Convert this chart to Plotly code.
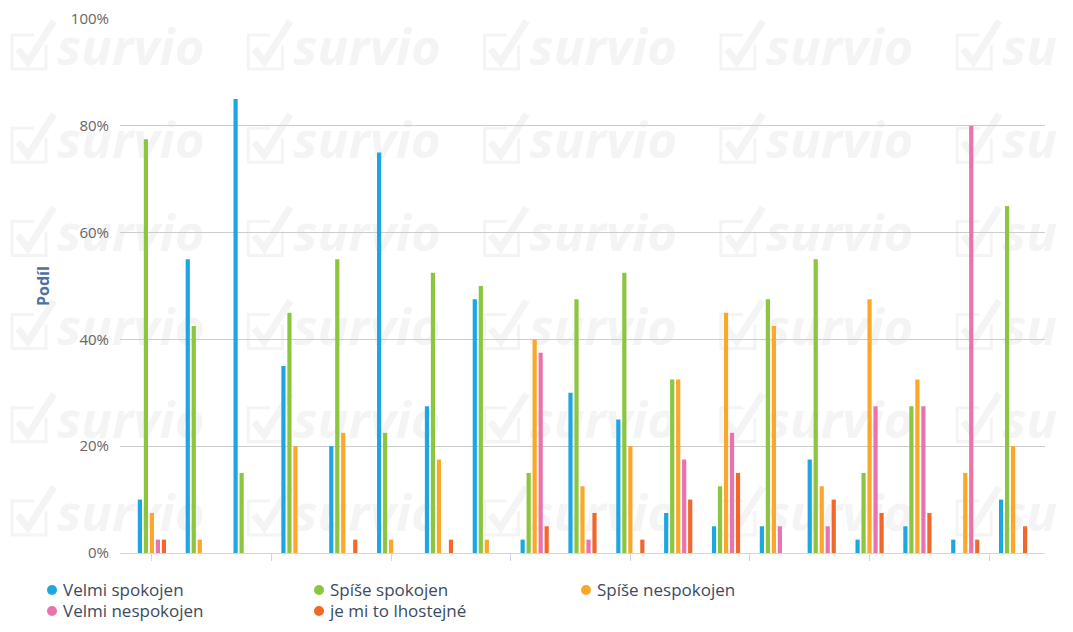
import plotly.graph_objects as go

# ---- data (percent of respondents per question) ----
categories = list(range(1, 20))
velmi_spokojen = [10, 55, 85, 35, 20, 75, 27.5, 47.5, 2.5, 30, 25, 7.5, 5, 5, 17.5, 2.5, 5, 2.5, 10]
spise_spokojen = [77.5, 42.5, 15, 45, 55, 22.5, 52.5, 50, 15, 47.5, 52.5, 32.5, 12.5, 47.5, 55, 15, 27.5, 0, 65]
spise_nespokojen = [7.5, 2.5, 0, 20, 22.5, 2.5, 17.5, 2.5, 40, 12.5, 20, 32.5, 45, 42.5, 12.5, 47.5, 32.5, 15, 20]
velmi_nespokojen = [2.5, 0, 0, 0, 0, 0, 0, 0, 37.5, 2.5, 0, 17.5, 22.5, 5, 5, 27.5, 27.5, 80, 0]
lhostejne = [2.5, 0, 0, 0, 2.5, 0, 2.5, 0, 5, 7.5, 2.5, 10, 15, 0, 10, 7.5, 7.5, 2.5, 5]

series_names = ["Velmi spokojen", "Spíše spokojen", "Spíše nespokojen", "Velmi nespokojen", "je mi to lhostejné"]
series_values = [velmi_spokojen, spise_spokojen, spise_nespokojen, velmi_nespokojen, lhostejne]
series_colors = ["#1da7e0", "#8cc540", "#fba72a", "#e873ad", "#f2672a"]

y_ticks = [0, 20, 40, 60, 80, 100]
y_ticktext = ["0%", "20%", "40%", "60%", "80%", "100%"]

# ---- layout geometry (page pixels; page body has an 8px margin) ----
OFF = 8
PAGE_W, PAGE_H = 1073, 632
W, H = PAGE_W - 2 * OFF, PAGE_H - 2 * OFF
PL, PR, PT, PB = 120, 1045, 19, 553          # plot area in page pixels
L, R, T, B = PL - OFF, W - (PR - OFF), PT - OFF, H - (PB - OFF)
PW, PH = PR - PL, PB - PT

def px_x(p):
    return (p - PL) / PW

def px_y(p):
    return (PB - p) / PH

x_idx = list(range(len(categories)))

fig = go.Figure()
for name, vals, col in zip(series_names, series_values, series_colors):
    fig.add_trace(go.Bar(x=x_idx, y=vals, name=name, marker=dict(color=col, line=dict(width=0)),
                         showlegend=False))
# legend entries (symbols drawn as circles below, closer to the text)
legend_rows = ["legend", "legend", "legend", "legend2", "legend2"]
for name, lg in zip(series_names, legend_rows):
    fig.add_trace(go.Scatter(x=[None], y=[None], mode="markers", name=name, legend=lg,
                             marker=dict(color="rgba(0,0,0,0)", size=10, symbol="circle")))

shapes = []
# ---- watermark ----
wm_col = "#f4f4f4"
for c in range(5):
    cx = 10 + 236.3 * c
    wm_text = "survio" if c < 4 else "su"
    for r in range(7):
        cy = 53 + 93.2 * r
        if cy + 20 > PAGE_H - OFF:
            continue
        shapes.append(dict(type="rect", xref="paper", yref="paper",
                           x0=px_x(cx + 44), x1=px_x(min(cx + 200, PAGE_W - OFF - 2)),
                           y0=px_y(cy - 4 + 30), y1=px_y(cy - 4 - 30),
                           line=dict(width=0), fillcolor="rgba(0,0,0,0)", layer="below",
                           label=dict(text=wm_text, textposition="middle left", padding=0,
                                      font=dict(family="Open Sans", size=51, color=wm_col,
                                                weight="bold", style="italic"))))
        bx0, bx1, by0, by1 = cx + 2, cx + 36, cy - 18, cy + 16
        path = (f"M {px_x(bx1)},{px_y(by0 + 10)} L {px_x(bx1)},{px_y(by1)} "
                f"L {px_x(bx0)},{px_y(by1)} L {px_x(bx0)},{px_y(by0)} L {px_x(bx1 - 12)},{px_y(by0)}")
        shapes.append(dict(type="path", xref="paper", yref="paper", path=path,
                           line=dict(width=3, color=wm_col), layer="below"))
        chk = (f"M {px_x(cx + 8)},{px_y(cy - 4)} L {px_x(cx + 18)},{px_y(cy + 9)} "
               f"L {px_x(cx + 44)},{px_y(cy - 32)}")
        shapes.append(dict(type="path", xref="paper", yref="paper", path=chk,
                           line=dict(width=7, color=wm_col), layer="below"))

# ---- legend symbols ----
LEG_X = 23
COL_STEP = 267
ROW_Y = [590, 611]
for i, col in enumerate(series_colors):
    row, k = divmod(i, 3)
    sx = LEG_X + 40 + COL_STEP * k - 11
    sy = ROW_Y[row]
    shapes.append(dict(type="circle", xref="paper", yref="paper",
                       x0=px_x(sx - 5), x1=px_x(sx + 5), y0=px_y(sy + 5), y1=px_y(sy - 5),
                       fillcolor=col, line=dict(width=0)))

legend_common = dict(orientation="h", xanchor="left", yanchor="top",
                     entrywidth=COL_STEP - 45, entrywidthmode="pixels", traceorder="normal",
                     font=dict(family="Open Sans", size=17, color="#3b4b5e"),
                     bgcolor="rgba(0,0,0,0)")

fig.update_layout(
    width=W, height=H,
    margin=dict(l=L, r=R, t=T, b=B, autoexpand=False),
    paper_bgcolor="white",
    plot_bgcolor="rgba(0,0,0,0)",
    barmode="group",
    bargap=0.373,
    bargroupgap=0.3,
    shapes=shapes,
    font=dict(family="Open Sans", color="#666666"),
    xaxis=dict(range=[-0.667, 18.667], tickvals=[0, 2.5, 5, 7.5, 10, 12.5, 15, 17.5],
               showticklabels=False, ticks="outside", ticklen=7, tickcolor="#ccd6eb",
               showline=True, linecolor="#ccd6eb", linewidth=1, showgrid=False, zeroline=False,
               fixedrange=True),
    yaxis=dict(range=[0, 100], tickvals=y_ticks, ticktext=y_ticktext,
               showgrid=True, gridcolor="#cdcdcd", gridwidth=1, zeroline=False,
               ticks="", ticklabelstandoff=10,
               tickfont=dict(family="Open Sans", size=15, color="#666666")),
    legend=dict(x=px_x(LEG_X), y=px_y(ROW_Y[0] - 18), **legend_common),
    legend2=dict(x=px_x(LEG_X), y=px_y(ROW_Y[1] - 18), **legend_common),
    annotations=[dict(text="<b>Podíl</b>", textangle=-90, xref="paper", yref="paper",
                      x=px_x(43), y=px_y(286), xanchor="center", yanchor="middle",
                      showarrow=False,
                      font=dict(family="Open Sans", size=16, color="#4d72a0"))],
)

fig.write_html("out.html")
